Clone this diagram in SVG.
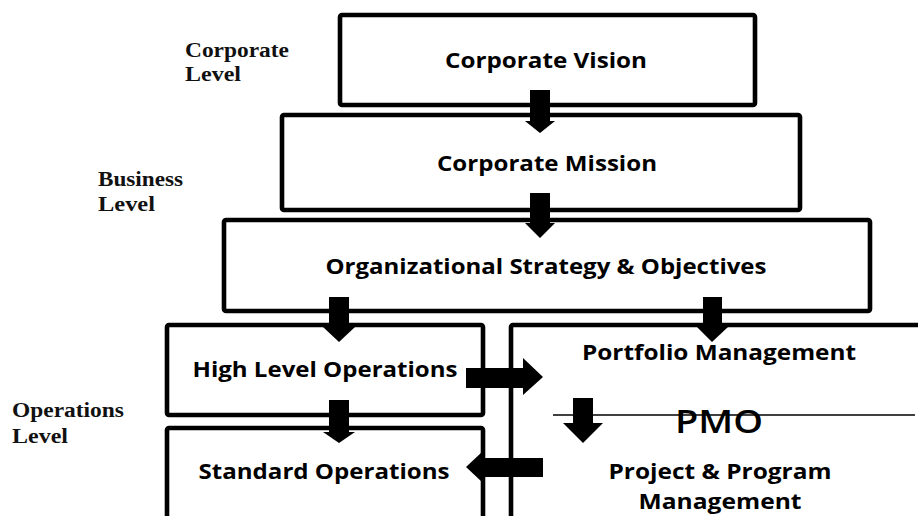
<svg xmlns="http://www.w3.org/2000/svg" width="918" height="516" viewBox="0 0 918 516">
<style>
.box{fill:#fff;stroke:#000;stroke-width:4.6}
.t{font-family:"Open Sans","Liberation Sans",sans-serif;font-weight:bold;font-size:21px;fill:#000;text-anchor:middle}
.lv{font-family:"Liberation Serif","DejaVu Serif",serif;font-weight:bold;font-size:20px;fill:#111}
.pmo{font-family:"Open Sans","Liberation Sans",sans-serif;font-weight:600;font-size:32px;fill:#000;text-anchor:middle}
.ar{fill:#000}
</style>
<rect width="918" height="516" fill="#fff"/>
<g id="labels">
<text class="lv" x="185" y="57" textLength="104" lengthAdjust="spacingAndGlyphs">Corporate</text>
<text class="lv" x="185" y="81" textLength="56" lengthAdjust="spacingAndGlyphs">Level</text>
<text class="lv" x="98" y="186" textLength="85" lengthAdjust="spacingAndGlyphs">Business</text>
<text class="lv" x="98" y="211" textLength="57" lengthAdjust="spacingAndGlyphs">Level</text>
<text class="lv" x="12" y="417" textLength="112" lengthAdjust="spacingAndGlyphs">Operations</text>
<text class="lv" x="12" y="443" textLength="56" lengthAdjust="spacingAndGlyphs">Level</text>
</g>
<g id="vision">
<rect class="box" x="340" y="15" width="415" height="90" rx="2"/>
<text class="t" x="546" y="68" textLength="202" lengthAdjust="spacingAndGlyphs">Corporate Vision</text>
</g>
<g id="mission">
<rect class="box" x="282" y="115" width="518" height="95" rx="2"/>
<text class="t" x="547" y="171" textLength="220" lengthAdjust="spacingAndGlyphs">Corporate Mission</text>
</g>
<g id="strategy">
<rect class="box" x="224" y="220" width="646" height="91" rx="2"/>
<text class="t" x="546" y="274" textLength="441" lengthAdjust="spacingAndGlyphs">Organizational Strategy &amp; Objectives</text>
</g>
<g id="highlevel">
<rect class="box" x="167" y="325" width="316" height="90" rx="2"/>
<text class="t" x="325" y="377" textLength="265" lengthAdjust="spacingAndGlyphs">High Level Operations</text>
</g>
<g id="standard">
<rect class="box" x="167" y="428" width="316" height="120" rx="2"/>
<text class="t" x="324" y="479" textLength="251" lengthAdjust="spacingAndGlyphs">Standard Operations</text>
</g>
<g id="pmo">
<rect class="box" x="511" y="325" width="440" height="230" rx="2"/>
<line x1="553" y1="415" x2="915" y2="415" stroke="#000" stroke-width="1.6"/>
<text class="t" x="719" y="360" textLength="274" lengthAdjust="spacingAndGlyphs">Portfolio Management</text>
<text class="pmo" x="719" y="433" textLength="88" lengthAdjust="spacingAndGlyphs">PMO</text>
<text class="t" x="720" y="479" textLength="223" lengthAdjust="spacingAndGlyphs">Project &amp; Program</text>
<text class="t" x="720" y="509" textLength="163" lengthAdjust="spacingAndGlyphs">Management</text>
</g>
<g id="connectors">
<polygon class="ar" points="530,90 550,90 550,121 555,121 540,133 525,121 530,121"/>
<polygon class="ar" points="530,193 550,193 550,223 555,223 540,238 525,223 530,223"/>
<polygon class="ar" points="329,297 349,297 349,327 355,327 339,342 323,327 329,327"/>
<polygon class="ar" points="329,400 349,400 349,432 355,432 339,443 323,432 329,432"/>
<polygon class="ar" points="703,297 722,297 722,327 728,327 712,342 697,327 703,327"/>
<polygon class="ar" points="466,368 523,368 523,358 543,377 523,395 523,388 466,388"/>
<polygon class="ar" points="543,458 482,458 482,452 466,467 482,482 482,477 543,477"/>
<polygon class="ar" points="573,398 593,398 593,423 603,423 583,443 563,423 573,423"/>
</g>
</svg>
